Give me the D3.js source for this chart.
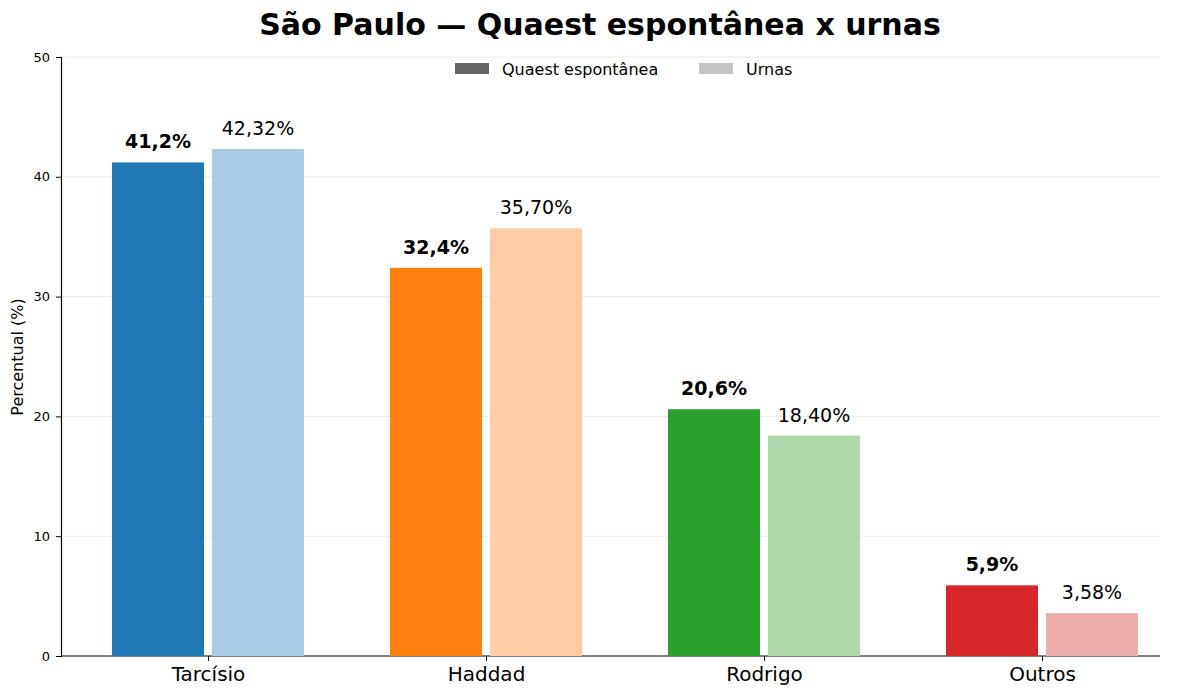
<!DOCTYPE html>
<html><head><meta charset="utf-8">
<script src="https://cdn.jsdelivr.net/npm/d3@7"></script>
<style>body{margin:0;background:#fff}text{font-family:"DejaVu Sans",sans-serif}</style>
</head><body><svg id="c" width="1200" height="696"></svg>
<script>
const categories=["Tarcísio","Haddad","Rodrigo","Outros"];
const quaest=[41.2,32.4,20.6,5.9];
const urnas=[42.32,35.70,18.40,3.58];
const quaestLabels=["41,2%","32,4%","20,6%","5,9%"];
const urnasLabels=["42,32%","35,70%","18,40%","3,58%"];
const darkColors=["#1f77b4","#ff7f0e","#2ca02c","#d62728"];
const lightColors=["#a9cbe3","#ffcca4","#b0d9ab","#eeaeae"];
const yTicks=[0,10,20,30,40,50];
const svg=d3.select("#c");
const y=d3.scaleLinear().domain([0,50]).range([656,57]);
const x=d3.scaleLinear().domain([0,3]).range([208,1042]);
const bw=92,off=50;
svg.append("g").selectAll("line").data(yTicks.slice(1)).join("line")
 .attr("x1",61).attr("x2",1160).attr("y1",d=>y(d)).attr("y2",d=>y(d)).attr("stroke","#ebebeb").attr("stroke-width",1);
const ya=svg.append("g").attr("transform","translate(61,0)").call(d3.axisLeft(y).tickValues(yTicks).tickSize(5).tickPadding(6));
ya.selectAll("text").style("font-size","13px").style("font-family","DejaVu Sans");
ya.select(".domain").attr("stroke","#000").attr("stroke-width",1.2);
const xa=svg.append("g").attr("transform","translate(0,656)").call(d3.axisBottom(x).tickValues([0,1,2,3]).tickFormat(i=>categories[i]).tickSize(5).tickPadding(6).tickSizeOuter(0));
xa.select(".domain").attr("d","M61,0H1160").attr("stroke","#000").attr("stroke-width",1.2);
xa.selectAll("text").style("font-size","20px").style("font-family","DejaVu Sans");
categories.forEach((c,i)=>{
 svg.append("rect").attr("x",x(i)-off-bw/2).attr("width",bw).attr("y",y(quaest[i])).attr("height",y(0)-y(quaest[i])).attr("fill",darkColors[i]);
 svg.append("rect").attr("x",x(i)+off-bw/2).attr("width",bw).attr("y",y(urnas[i])).attr("height",y(0)-y(urnas[i])).attr("fill",lightColors[i]);
 svg.append("text").attr("x",x(i)-off).attr("y",y(quaest[i])-14).attr("text-anchor","middle").style("font-size","19px").style("font-weight","bold").text(quaestLabels[i]);
 svg.append("text").attr("x",x(i)+off).attr("y",y(urnas[i])-14).attr("text-anchor","middle").style("font-size","19px").text(urnasLabels[i]);
});
svg.append("text").attr("x",600).attr("y",35).attr("text-anchor","middle").style("font-size","30px").style("font-weight","bold").text("São Paulo — Quaest espontânea x urnas");
svg.append("text").attr("transform","translate(23,357) rotate(-90)").attr("text-anchor","middle").style("font-size","16px").text("Percentual (%)");
const leg=[["Quaest espontânea","#666666",455],["Urnas","#c4c4c4",699]];
leg.forEach(l=>{
 svg.append("rect").attr("x",l[2]).attr("y",63).attr("width",34).attr("height",11).attr("fill",l[1]);
 svg.append("text").attr("x",l[2]+47).attr("y",75).style("font-size","16px").text(l[0]);
});
</script></body></html>
